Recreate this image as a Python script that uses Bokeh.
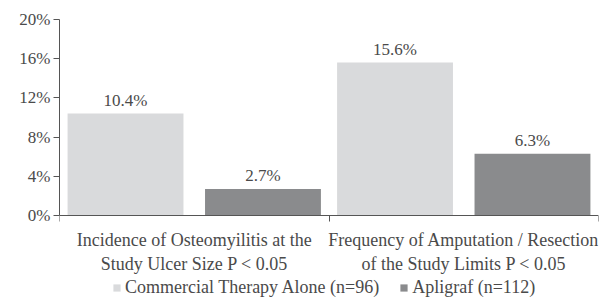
from bokeh.plotting import figure
from bokeh.models import (ColumnDataSource, FixedTicker, LinearAxis, Range1d,
                          Legend, LegendItem)
from bokeh.core.properties import value
from bokeh.embed import file_html
from bokeh.resources import INLINE

categories = ["Incidence of Osteomyilitis at the\nStudy Ulcer Size P < 0.05",
              "Frequency of Amputation / Resection\nof the Study Limits P < 0.05"]
series = ["Commercial Therapy Alone (n=96)", "Apligraf (n=112)"]
commercial = [10.4, 15.6]
apligraf = [2.7, 6.3]
y_ticks = [0, 4, 8, 12, 16, 20]

FONT = "Liberation Serif"
TXT = "#4a4a4a"
LIGHT = "#d9dadc"
DARK = "#8a8b8d"

# frame extends below the zero line to hold category labels and legend
Y_LOW = -84 / 9.8
p = figure(frame_width=539, frame_height=280, output_backend="svg", toolbar_location=None,
           x_range=Range1d(0, 2), y_range=Range1d(Y_LOW, 20),
           min_border_left=59, min_border_right=1, min_border_top=19,
           min_border_bottom=0)
p.grid.visible = False
p.outline_line_color = None
p.background_fill_color = "white"

idx = list(range(len(categories)))
off = 0.255
w = 0.43
src1 = ColumnDataSource(dict(x=[i + 0.5 - off for i in idx], top=commercial,
                             lab=[f"{v}%" for v in commercial]))
src2 = ColumnDataSource(dict(x=[i + 0.5 + off for i in idx], top=apligraf,
                             lab=[f"{v}%" for v in apligraf]))
r1 = p.vbar(x="x", top="top", width=w, source=src1, fill_color=LIGHT, line_color=None)
r2 = p.vbar(x="x", top="top", width=w, source=src2, fill_color=DARK, line_color=None)
for s in (src1, src2):
    p.text(x="x", y="top", text="lab", source=s, y_offset=-4,
           text_align="center", text_baseline="bottom",
           text_font=value(FONT), text_font_size="17px", text_color=TXT)

# y axis
ya = p.yaxis[0]
ya.ticker = FixedTicker(ticks=y_ticks)
ya.bounds = (0, 20)
ya.major_label_overrides = {t: f"{t}%" for t in y_ticks}
ya.major_label_text_font = FONT
ya.major_label_text_font_size = "17px"
ya.major_label_text_color = TXT
ya.axis_line_color = "#555555"
ya.major_tick_line_color = "#555555"
ya.major_tick_in = 0
ya.major_tick_out = 6
ya.minor_tick_line_color = None
ya.major_label_standoff = 3

# x axis at zero: boundary ticks only
xa = p.xaxis[0]
xa.fixed_location = 0
xa.ticker = FixedTicker(ticks=[0, 1, 2])
xa.major_label_overrides = {0: " ", 1: " ", 2: " "}
xa.major_label_text_font_size = "2px"
xa.axis_line_color = "#555555"
xa.major_tick_line_color = "#555555"
xa.major_tick_in = 0
xa.major_tick_out = 6
xa.minor_tick_line_color = None
xa.major_label_standoff = 0

cat_axis = LinearAxis(ticker=FixedTicker(ticks=[i + 0.5 for i in idx]),
                      fixed_location=0,
                      major_label_overrides={i + 0.5: c for i, c in zip(idx, categories)},
                      axis_line_color=None, major_tick_line_color=None,
                      minor_tick_line_color=None, major_label_standoff=14,
                      major_tick_in=0, major_tick_out=0,
                      major_label_text_font=FONT, major_label_text_font_size="18px",
                      major_label_text_color=TXT)
p.add_layout(cat_axis, "below")

legend = Legend(items=[LegendItem(label=series[0], renderers=[r1]),
                       LegendItem(label=series[1], renderers=[r2])],
                orientation="horizontal", location=(53, 1),
                label_text_font=FONT, label_text_font_size="18px",
                label_text_color=TXT, glyph_width=9, glyph_height=9,
                label_height=18,
                spacing=20, padding=0, margin=0, border_line_color=None,
                background_fill_alpha=0, label_standoff=4)
p.add_layout(legend)

open("out.html", "w").write(file_html(p, INLINE))
